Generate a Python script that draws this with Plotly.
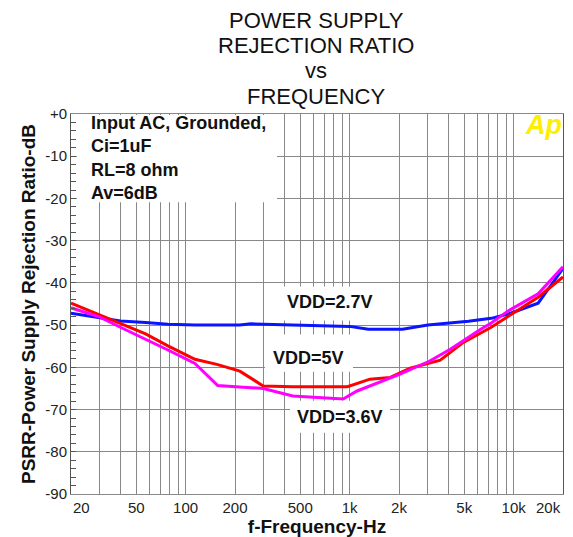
import plotly.graph_objects as go

# ---- data ----
freq_27 = [20, 30, 40, 57, 78, 114, 214, 250, 450, 1000, 1300, 2100, 3000, 4100, 5300, 7300, 9400, 14100, 20000]
psrr_27 = [-47.2, -48.2, -49.0, -49.4, -49.8, -50.0, -50.0, -49.7, -50.0, -50.3, -51.0, -51.0, -50.0, -49.5, -49.1, -48.4, -47.3, -44.8, -36.6]

freq_5 = [20, 30, 40, 57, 78, 114, 155, 214, 297, 450, 970, 1160, 1330, 1770, 2340, 3570, 4940, 7300, 9400, 14100, 20000]
psrr_5 = [-44.8, -47.6, -49.6, -52.1, -54.9, -58.1, -59.3, -60.9, -64.4, -64.6, -64.6, -63.5, -62.8, -62.4, -60.2, -58.3, -54.1, -50.5, -47.7, -43.4, -38.6]

freq_36 = [20, 30, 40, 57, 78, 114, 157, 224, 297, 450, 660, 790, 913, 1110, 1600, 2030, 3080, 4110, 6300, 7300, 9400, 14100, 20000]
psrr_36 = [-45.9, -48.1, -50.5, -53.3, -55.9, -59.1, -64.3, -64.7, -65.0, -66.8, -67.2, -67.5, -67.5, -65.6, -63.2, -61.6, -58.5, -55.7, -51.0, -49.5, -46.5, -42.6, -36.2]

x_tickvals = [50, 100, 200, 500, 1000, 2000, 5000, 10000]
x_ticktext = ["50", "100", "200", "500", "1k", "2k", "5k", "10k"]
x_edge_labels = ["20", "20k"]
x_gridvals = [30, 40, 50, 60, 70, 80, 90, 100, 200, 300, 400, 500, 600, 700, 800, 900,
              1000, 2000, 3000, 4000, 5000, 6000, 7000, 8000, 9000, 10000]
y_tickvals = [0, -10, -20, -30, -40, -50, -60, -70, -80, -90]
y_ticktext = ["+0", "-10", "-20", "-30", "-40", "-50", "-60", "-70", "-80", "-90"]

series = [
    ("VDD=2.7V", freq_27, psrr_27, "#0a14ff"),
    ("VDD=5V", freq_5, psrr_5, "#ff0000"),
    ("VDD=3.6V", freq_36, psrr_36, "#ff00ff"),
]

FONT = "Arial, Liberation Sans, sans-serif"
GRID = "#888888"

fig = go.Figure()
for name, fx, fy, col in series:
    fig.add_trace(go.Scatter(x=fx, y=fy, mode="lines", name=name,
                             line=dict(color=col, width=3), showlegend=False))

fig.update_layout(
    width=573, height=537,
    margin=dict(l=71, r=10, t=114, b=43, autoexpand=False),
    paper_bgcolor="white", plot_bgcolor="white",
    font=dict(family=FONT, color="#111"),
    showlegend=False,
)

fig.update_xaxes(
    type="log", range=[1.30103, 4.30103],
    tickvals=x_tickvals, ticktext=x_ticktext,
    showgrid=False, ticks="",
    tickfont=dict(size=15, family=FONT, color="#222"),
    showline=True, linecolor=GRID, linewidth=1, mirror=True,
    minor=dict(tickvals=x_gridvals, showgrid=True, gridcolor=GRID, gridwidth=1, ticks=""),
    title=dict(text="<b>f-Frequency-Hz</b>", font=dict(size=19, family=FONT, color="#111"), standoff=2),
)
fig.update_yaxes(
    range=[-90, 0],
    tickvals=y_tickvals, ticktext=y_ticktext,
    showgrid=True, gridcolor=GRID, gridwidth=1,
    ticks="inside", ticklen=5, tickcolor="#555",
    minor=dict(dtick=2, tick0=0, ticks="inside", ticklen=5, tickcolor="#555", showgrid=False),
    tickfont=dict(size=15, family=FONT, color="#222"),
    showline=True, linecolor="#555", linewidth=1, mirror=True,
    zeroline=False,
    title=dict(text="<b>PSRR-Power Supply Rejection Ratio-dB</b>",
               font=dict(size=19, family=FONT, color="#111"), standoff=4),
)

def px_x(px):
    return (px - 71) / 492

def px_y(py):
    return (494 - py) / 379

# white boxes behind labels that hide the grid (they do not touch the curves)
boxes = [(77, 277, 116, 203), (270, 385, 287, 321), (265, 353, 335, 372),
         (290, 390, 401, 433), (516, 562, 116, 152)]
for x0, x1, y0, y1 in boxes:
    fig.add_shape(type="rect", xref="paper", yref="paper",
                  x0=px_x(x0), x1=px_x(x1), y0=px_y(y1), y1=px_y(y0),
                  fillcolor="white", line=dict(width=0), layer="above")

# edge tick labels, nudged inside like the reference
fig.add_annotation(xref="paper", yref="paper", x=px_x(71), y=px_y(507),
                   xanchor="left", yanchor="middle", showarrow=False,
                   text=x_edge_labels[0], font=dict(size=15, family=FONT, color="#222"))
fig.add_annotation(xref="paper", yref="paper", x=px_x(563), y=px_y(507),
                   xanchor="right", yanchor="middle", showarrow=False,
                   text=x_edge_labels[1], font=dict(size=15, family=FONT, color="#222"))

# title lines
for txt, ty in [("POWER SUPPLY", 22), ("REJECTION RATIO", 47), ("vs", 72), ("FREQUENCY", 98)]:
    fig.add_annotation(xref="paper", yref="paper", x=px_x(316), y=px_y(ty),
                       xanchor="center", yanchor="middle", showarrow=False,
                       text=txt, font=dict(size=22, family=FONT, color="#111"))

fig.add_annotation(xref="paper", yref="paper", x=px_x(89), y=px_y(158.5),
                   xanchor="left", yanchor="middle", align="left", showarrow=False,
                   text="<b>Input AC, Grounded,<br>Ci=1uF<br>RL=8 ohm<br>Av=6dB</b>",
                   font=dict(size=18, family=FONT, color="#111"))

labels = [("VDD=2.7V", 329.5, 303), ("VDD=5V", 308.5, 358), ("VDD=3.6V", 340, 417)]
for txt, lx, ly in labels:
    fig.add_annotation(xref="paper", yref="paper", x=px_x(lx), y=px_y(ly),
                       xanchor="center", yanchor="middle", showarrow=False,
                       text="<b>" + txt + "</b>",
                       font=dict(size=18, family=FONT, color="#111"))

fig.add_annotation(xref="paper", yref="paper", x=px_x(543), y=px_y(126),
                   xanchor="center", yanchor="middle", showarrow=False,
                   text="<b><i>Ap</i></b>",
                   font=dict(size=27, family=FONT, color="#ffee00"))

fig.write_html("out.html", config={"displayModeBar": False},
               post_script="document.body.style.margin='0';")
